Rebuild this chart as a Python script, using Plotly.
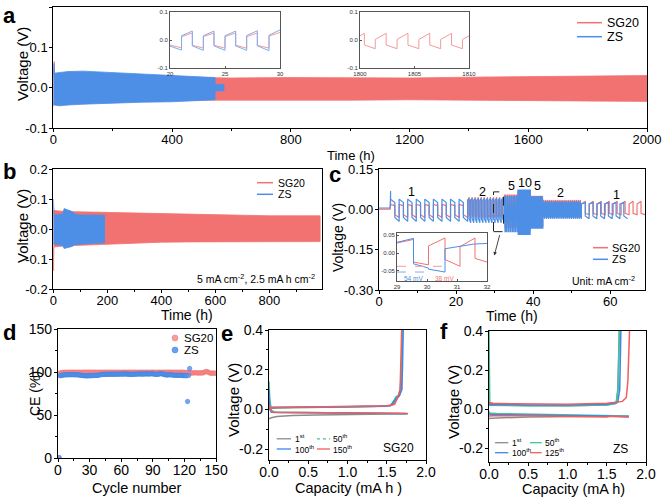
import plotly.graph_objects as go

W, H = 663, 499
def X(px): return px / W
def Y(py): return 1 - py / H

RED = "#F27272"
BLUE = "#4D8FE6"
FONT = "Arial, Liberation Sans, sans-serif"

# ---------------- panel a : envelopes of dense cycling (h, V) ----------------
a_sg_t   = [0, 2, 3, 4, 8, 20, 100, 200, 300, 400, 500, 600, 800, 1000, 1200, 1400, 1600, 1800, 2000]
a_sg_top = [0.03, 0.03, 0.065, 0.035, 0.035, 0.033, 0.030, 0.028, 0.026, 0.026, 0.025, 0.024, 0.025, 0.025, 0.024, 0.026, 0.027, 0.028, 0.030]
a_sg_bot = [-0.04, -0.04, -0.04, -0.04, -0.04, -0.038, -0.035, -0.033, -0.032, -0.031, -0.030, -0.030, -0.031, -0.031, -0.030, -0.031, -0.032, -0.033, -0.034]
a_zs_t   = [0, 1, 2, 4, 20, 50, 100, 200, 300, 400, 450, 545]
a_zs_top = [0.03, 0.06, 0.06, 0.036, 0.038, 0.040, 0.041, 0.037, 0.033, 0.030, 0.028, 0.025]
a_zs_bot = [-0.035, -0.045, -0.045, -0.043, -0.045, -0.043, -0.041, -0.038, -0.036, -0.035, -0.033, -0.030]
a_zs_tail_t = [545, 575]
a_zs_tail_top = [0.008, 0.008]
a_zs_tail_bot = [-0.008, -0.008]

# insets of panel a
ia1_t  = [20.0, 21.05, 21.05, 22.03, 22.03, 23.03, 23.03, 24.0, 24.0, 25.0, 25.0, 25.97, 25.97, 26.97, 26.97, 27.94, 27.94, 29.0, 29.0, 30.0]
ia1_sg = [-0.018, -0.028, 0.012, 0.025, -0.019, -0.029, 0.012, 0.025, -0.019, -0.029, 0.012, 0.025, -0.019, -0.029, 0.012, 0.025, -0.019, -0.029, 0.014, 0.027]
ia1_zs = [-0.022, -0.036, 0.015, 0.032, -0.021, -0.037, 0.015, 0.032, -0.021, -0.037, 0.015, 0.032, -0.021, -0.037, 0.016, 0.033, -0.021, -0.038, 0.017, 0.036]
ia2_t  = [1800.0, 1800.4, 1800.4, 1801.4, 1801.4, 1802.4, 1802.4, 1803.4, 1803.4, 1804.4, 1804.4, 1805.4, 1805.4, 1806.4, 1806.4, 1807.4, 1807.4, 1808.4, 1808.4, 1809.4, 1809.4, 1810.0]
ia2_sg = [0.015, 0.024, -0.018, -0.031, 0.002, 0.024, -0.018, -0.031, 0.002, 0.024, -0.018, -0.031, 0.002, 0.024, -0.018, -0.031, 0.002, 0.024, -0.018, -0.031, 0.002, 0.015]

# ---------------- panel b : envelopes ----------------
b_sg_t   = [0, 1, 2, 5, 20, 50, 100, 200, 300, 400, 500, 600, 700, 800, 900, 988]
b_sg_top = [0.062, 0.062, 0.062, 0.062, 0.060, 0.058, 0.057, 0.054, 0.052, 0.050, 0.048, 0.046, 0.045, 0.044, 0.044, 0.044]
b_sg_bot = [-0.06, -0.14, -0.06, -0.06, -0.058, -0.056, -0.053, -0.050, -0.047, -0.044, -0.043, -0.042, -0.042, -0.041, -0.042, -0.042]
b_zs_t   = [0, 1, 3, 10, 35, 40, 50, 60, 70, 80, 85, 100, 150, 190]
b_zs_top = [0.10, 0.05, 0.048, 0.047, 0.050, 0.068, 0.065, 0.060, 0.058, 0.050, 0.048, 0.047, 0.047, 0.046]
b_zs_bot = [-0.05, -0.05, -0.05, -0.05, -0.055, -0.065, -0.063, -0.060, -0.058, -0.052, -0.050, -0.050, -0.048, -0.046]

# ---------------- panel c : rate test segments ----------------
c_pre_t  = [0, 2.9, 3.0]
c_pre_sg = [0.001, 0.001, 0.03]
c_pre_zs = [0.005, 0.005, 0.068]
c_seg_t0     = [3.0, 23.0, 32.5, 36.0, 39.3, 42.5, 52.5]
c_seg_t1_sg  = [23.0, 32.5, 36.0, 39.3, 42.5, 52.5, 69.0]
c_seg_t1_zs  = [23.0, 32.5, 36.0, 39.3, 42.5, 52.5, 64.5]
c_seg_period = [2.22, 0.8, 0.2, 0.1, 0.2, 0.5, 2.1]
c_sg_hs = [0.018, 0.030, 0.050, 0.066, 0.045, 0.025, 0.020]
c_sg_he = [0.014, 0.045, 0.055, 0.070, 0.050, 0.035, 0.030]
c_sg_ls = [-0.020, -0.020, -0.060, -0.070, -0.055, -0.020, -0.015]
c_sg_le = [-0.030, -0.030, -0.070, -0.080, -0.065, -0.030, -0.020]
c_zs_hs = [0.038, 0.035, 0.045, 0.065, 0.040, 0.020, 0.020]
c_zs_he = [0.025, 0.040, 0.050, 0.074, 0.048, 0.030, 0.025]
c_zs_ls = [-0.030, -0.035, -0.070, -0.085, -0.060, -0.025, -0.025]
c_zs_le = [-0.045, -0.050, -0.085, -0.095, -0.072, -0.035, -0.035]
c_labels   = ["1", "2", "5", "10", "5", "2", "1"]
c_label_x  = [8.5, 26.9, 34.4, 37.8, 41.0, 47.0, 61.6]
c_label_y  = [0.064, 0.064, 0.088, 0.098, 0.088, 0.062, 0.052]

# inset of panel c
ic_zs_t = [29.0, 29.55, 29.55, 30.05, 30.05, 30.6, 30.6, 31.1, 31.1, 31.55, 32.0]
ic_zs_v = [0.030, 0.041, -0.030, -0.042, -0.045, -0.053, 0.012, 0.018, 0.020, 0.025, 0.027]
ic_sg_t = [29.0, 29.55, 29.55, 30.05, 30.05, 30.6, 30.6, 31.1, 31.1, 31.6, 31.6, 32.0]
ic_sg_v = [0.028, 0.038, -0.025, -0.033, 0.020, 0.042, -0.018, -0.037, 0.018, 0.042, -0.015, -0.025]

# ---------------- panel d : Coulombic efficiency ----------------
sg20_ce = [
    0.3, 98.8, 99.2, 99.4, 99.5, 99.6, 99.6, 99.7, 99.6, 99.7,
    99.7, 99.6, 99.7, 99.8, 99.7, 99.7, 99.6, 99.7, 99.8, 99.7,
    99.7, 99.6, 99.7, 99.7, 99.8, 99.7, 99.6, 99.7, 99.7, 99.8,
    99.7, 99.7, 99.6, 99.7, 99.8, 99.7, 99.7, 99.6, 99.7, 99.7,
    99.8, 99.7, 99.6, 99.7, 99.7, 99.8, 99.7, 99.7, 99.6, 99.7,
    99.7, 99.8, 99.7, 99.6, 99.7, 99.7, 99.8, 99.7, 99.7, 99.6,
    99.7, 99.7, 99.8, 99.7, 99.6, 99.7, 99.7, 99.8, 99.7, 99.7,
    99.6, 99.7, 99.8, 99.7, 99.7, 99.6, 99.7, 99.7, 99.8, 99.7,
    99.7, 99.6, 99.7, 99.7, 99.8, 99.7, 99.6, 99.7, 99.7, 99.8,
    99.7, 99.7, 99.6, 99.7, 99.7, 99.8, 99.7, 99.6, 99.7, 99.7,
    99.8, 99.7, 99.7, 99.6, 99.7, 99.7, 99.8, 99.7, 99.6, 99.7,
    99.7, 99.8, 99.7, 99.7, 99.6, 99.7, 99.7, 99.8, 99.7, 99.6,
    99.5, 99.4, 99.3, 99.2, 99.0, 98.9, 98.8, 98.9, 99.0, 99.1,
    99.0, 98.9, 98.8, 98.9, 99.0, 98.9, 98.8, 99.2, 99.6, 100.4,
    100.6, 100.2, 99.5, 99.0, 98.6, 98.5, 98.7, 98.8, 98.6, 98.5,
]
zs_ce = [
    0.5, 95.6, 96.0, 96.3, 96.5, 96.6, 96.8, 96.7, 96.9, 96.8,
    97.0, 96.9, 96.8, 97.0, 96.9, 96.8, 96.7, 96.8, 96.6, 96.5,
    96.3, 96.1, 96.0, 95.8, 95.7, 95.6, 95.5, 95.6, 95.5, 95.7,
    95.8, 95.7, 95.9, 96.0, 96.1, 95.9, 96.0, 96.2, 96.4, 96.7,
    97.0, 97.2, 97.3, 97.2, 97.4, 97.3, 97.2, 97.4, 97.3, 97.5,
    97.4, 97.3, 97.5, 97.4, 97.6, 97.5, 97.4, 97.6, 97.5, 97.7,
    97.6, 97.5, 97.7, 97.8, 97.6, 97.5, 97.4, 97.3, 97.4, 97.2,
    97.3, 97.4, 97.5, 97.6, 97.5, 97.7, 97.8, 97.6, 97.7, 97.5,
    97.6, 97.7, 97.8, 97.9, 97.7, 97.6, 97.8, 97.9, 98.0, 97.8,
    97.7, 97.5, 97.3, 97.2, 97.4, 97.6, 98.0, 98.2, 97.8, 97.4,
    97.0, 96.8, 96.6, 96.5, 96.7, 96.9, 96.8, 96.6, 96.4, 96.3,
    96.2, 96.3, 96.1, 96.0, 96.2, 96.3, 96.1, 96.0, 95.9, 96.0,
    95.8, 95.6, 65.7, 96.0, 104.0,
]
sg20_cycles = list(range(1, len(sg20_ce) + 1))
zs_cycles = list(range(1, len(zs_ce) + 1))

# ---------------- panel e : SG20 voltage profiles (mA h, V) ----------------
e_names = ["1<sup>st</sup>", "50<sup>th</sup>", "100<sup>th</sup>", "150<sup>th</sup>"]
e_colors = ["#8C8C8C", "#3CC7A0", "#3D86EA", "#F25C5C"]
e_plate_cap = [[0, 0.03, 0.1, 0.3, 0.6, 1.0, 1.4, 1.77],
               [0, 0.01, 0.03, 0.08, 0.5, 1.0, 1.5, 1.75],
               [0, 0.01, 0.03, 0.1, 1.0, 1.75],
               [0, 0.02, 0.05, 0.5, 1.0, 1.5, 1.77]]
e_plate_v = [[-0.048, -0.042, -0.036, -0.031, -0.028, -0.026, -0.024, -0.022],
             [0.14, 0.05, -0.005, -0.015, -0.016, -0.018, -0.020, -0.022],
             [0.10, 0.0, -0.014, -0.016, -0.018, -0.021],
             [0.02, 0.0, -0.015, -0.016, -0.018, -0.020, -0.021]]
e_strip_cap = [[0, 0.1, 0.5, 1.0, 1.5, 1.57, 1.62, 1.66, 1.69, 1.70],
               [0, 0.05, 0.5, 1.0, 1.4, 1.55, 1.6, 1.62, 1.65, 1.67, 1.69, 1.70],
               [0, 0.05, 0.5, 1.0, 1.4, 1.55, 1.6, 1.63, 1.66, 1.69, 1.70, 1.71],
               [0, 0.05, 0.5, 1.0, 1.5, 1.6, 1.64, 1.67, 1.69]]
e_strip_v = [[0.005, 0.007, 0.009, 0.011, 0.016, 0.022, 0.05, 0.07, 0.1, 0.4],
             [0.010, 0.010, 0.011, 0.013, 0.016, 0.020, 0.050, 0.065, 0.070, 0.10, 0.20, 0.40],
             [0.010, 0.010, 0.011, 0.013, 0.016, 0.020, 0.045, 0.060, 0.068, 0.10, 0.20, 0.40],
             [0.008, 0.010, 0.012, 0.014, 0.018, 0.025, 0.060, 0.10, 0.40]]

# ---------------- panel f : ZS voltage profiles ----------------
f_names = ["1<sup>st</sup>", "50<sup>th</sup>", "100<sup>th</sup>", "125<sup>th</sup>"]
f_colors = ["#8C8C8C", "#3CC7A0", "#3D86EA", "#F25C5C"]
f_plate_cap = [[0, 0.1, 0.5, 1.0, 1.5, 1.78],
               [0, 0.01, 0.1, 0.5, 1.0, 1.5, 1.78],
               [0, 0.05, 0.5, 1.0, 1.5, 1.78],
               [0, 0.05, 0.5, 1.0, 1.4, 1.5, 1.55, 1.78]]
f_plate_v = [[-0.048, -0.045, -0.040, -0.037, -0.036, -0.035],
             [-0.010, -0.020, -0.022, -0.025, -0.028, -0.032, -0.035],
             [-0.025, -0.028, -0.030, -0.032, -0.035, -0.040],
             [-0.035, -0.033, -0.033, -0.035, -0.036, -0.040, -0.036, -0.038]]
f_strip_cap = [[0, 0.1, 0.5, 1.0, 1.5, 1.62, 1.64, 1.66],
               [0, 0.003, 0.01, 0.1, 0.5, 1.0, 1.5, 1.62, 1.645, 1.66],
               [0, 0.05, 0.5, 1.0, 1.5, 1.64, 1.665, 1.68],
               [0, 0.05, 0.3, 0.8, 1.0, 1.5, 1.7, 1.75, 1.77, 1.79]]
f_strip_v = [[0.02, 0.02, 0.018, 0.018, 0.022, 0.03, 0.1, 0.4],
             [0.40, 0.10, 0.030, 0.022, 0.018, 0.018, 0.022, 0.030, 0.10, 0.40],
             [0.025, 0.025, 0.022, 0.021, 0.025, 0.035, 0.10, 0.40],
             [0.035, 0.030, 0.028, 0.025, 0.025, 0.030, 0.040, 0.060, 0.15, 0.40]]

# ======================================================================
fig = go.Figure()

def band(t, top, bot, color, xa, ya):
    fig.add_trace(go.Scatter(x=list(t) + list(t)[::-1], y=list(top) + list(bot)[::-1],
                             fill="toself", fillcolor=color, mode="lines",
                             line=dict(color=color, width=0.8), xaxis=xa, yaxis=ya,
                             hoverinfo="skip", showlegend=False))

def line(x, y, color, xa, ya, width=1.2, dash=None):
    fig.add_trace(go.Scatter(x=x, y=y, mode="lines", line=dict(color=color, width=width, dash=dash),
                             xaxis=xa, yaxis=ya, hoverinfo="skip", showlegend=False))

def square(t0s, t1s, periods, hs, he, ls, le):
    xs, ys = [], []
    for a, b, p, h1, h2, l1, l2 in zip(t0s, t1s, periods, hs, he, ls, le):
        n = max(1, round((b - a) / p))
        step = (b - a) / n
        for k in range(n):
            s = a + k * step
            m = s + step / 2
            xs += [s, m, m, s + step]
            ys += [h1, h2, l1, l2]
    return xs, ys

# panel a
band(a_sg_t, a_sg_top, a_sg_bot, RED, "x", "y")
band(a_zs_t, a_zs_top, a_zs_bot, BLUE, "x", "y")
band(a_zs_tail_t, a_zs_tail_top, a_zs_tail_bot, BLUE, "x", "y")
line(ia1_t, ia1_sg, "#F49A9A", "x7", "y7", 1.0)
line(ia1_t, ia1_zs, "#7FAEEF", "x7", "y7", 1.0)
line(ia2_t, ia2_sg, "#F49A9A", "x8", "y8", 1.0)

# panel b
band(b_sg_t, b_sg_top, b_sg_bot, RED, "x2", "y2")
band(b_zs_t, b_zs_top, b_zs_bot, BLUE, "x2", "y2")

# panel c
sx, sy = square(c_seg_t0, c_seg_t1_sg, c_seg_period, c_sg_hs, c_sg_he, c_sg_ls, c_sg_le)
zx, zy = square(c_seg_t0, c_seg_t1_zs, c_seg_period, c_zs_hs, c_zs_he, c_zs_ls, c_zs_le)
line(c_pre_t + sx, c_pre_sg + sy, RED, "x3", "y3", 1.2)
line(c_pre_t + zx, c_pre_zs + zy, BLUE, "x3", "y3", 1.2)
line(ic_sg_t, ic_sg_v, RED, "x9", "y9", 1.0)
line(ic_zs_t, ic_zs_v, BLUE, "x9", "y9", 1.0)
line([29.0, 30.6], [-0.037, -0.037], "#F49A9A", "x9", "y9", 1.0, "dash")
line([29.0, 30.0], [-0.053, -0.053], "#7FAEEF", "x9", "y9", 1.0, "dash")

# panel d
fig.add_trace(go.Scatter(x=sg20_cycles, y=sg20_ce, mode="markers", xaxis="x4", yaxis="y4",
                         marker=dict(size=4.5, color="rgba(245,140,140,0.75)", line=dict(color="#F07070", width=0.5)),
                         hoverinfo="skip", showlegend=False))
fig.add_trace(go.Scatter(x=zs_cycles, y=zs_ce, mode="markers", xaxis="x4", yaxis="y4",
                         marker=dict(size=4.5, color="rgba(90,150,235,0.85)", line=dict(color="#3D7FE0", width=0.5)),
                         hoverinfo="skip", showlegend=False))

# panels e, f
for i in range(4):
    line(e_plate_cap[i], e_plate_v[i], e_colors[i], "x5", "y5", 1.5)
    line(e_strip_cap[i], e_strip_v[i], e_colors[i], "x5", "y5", 1.5)
for i in range(4):
    line(f_plate_cap[i], f_plate_v[i], f_colors[i], "x6", "y6", 1.5)
    line(f_strip_cap[i], f_strip_v[i], f_colors[i], "x6", "y6", 1.5)

# ---------------- axes ----------------
def main_axis(px0, px1, rng, tickvals, ticktext, minor, anchor, size=13, vertical=False):
    d = dict(domain=[Y(px1), Y(px0)] if vertical else [X(px0), X(px1)], range=rng,
             tickmode="array", tickvals=tickvals, ticktext=ticktext,
             showline=True, linecolor="black", linewidth=1.1, mirror=True,
             ticks="outside", ticklen=3, tickwidth=1, tickcolor="black",
             showgrid=False, zeroline=False, anchor=anchor,
             tickfont=dict(size=size, color="black", family=FONT))
    d["ticklabelstandoff"] = -1 if vertical else -4
    if minor:
        d["minor"] = dict(dtick=minor, tick0=0, ticks="outside", ticklen=2, tickwidth=1, tickcolor="black", showgrid=False)
    return d

def inset_axis(px0, px1, rng, tickvals, ticktext, anchor, vertical=False):
    return dict(domain=[Y(px1), Y(px0)] if vertical else [X(px0), X(px1)], range=rng,
                tickmode="array", tickvals=tickvals, ticktext=ticktext,
                showline=True, linecolor="#555555", linewidth=0.8, mirror=True,
                ticks="inside", ticklen=2, tickwidth=0.6, tickcolor="#555555",
                showgrid=False, zeroline=False, anchor=anchor,
                tickfont=dict(size=6, color="#333333", family=FONT))

lay = dict(
    xaxis=main_axis(53.3, 647, [0, 2000], [0, 400, 800, 1200, 1600, 2000], ["0", "400", "800", "1200", "1600", "2000"], 200, "y"),
    yaxis=main_axis(7, 128, [-0.1, 0.2], [-0.1, 0.0, 0.1, 0.2], ["-0.1", "0.0", "0.1", "0.2"], None, "x", vertical=True),
    xaxis2=main_axis(53.3, 322, [0, 995], [0, 200, 400, 600, 800], ["0", "200", "400", "600", "800"], 100, "y2"),
    yaxis2=main_axis(169, 289, [-0.2, 0.2], [-0.2, -0.1, 0.0, 0.1, 0.2], ["-0.2", "-0.1", "0.0", "0.1", "0.2"], None, "x2", vertical=True),
    xaxis3=main_axis(379, 645, [0, 69], [0, 20, 40, 60], ["0", "20", "40", "60"], 10, "y3"),
    yaxis3=main_axis(169, 290, [-0.30, 0.15], [-0.30, -0.15, 0.0, 0.15], ["-0.30", "-0.15", "0.00", "0.15"], None, "x3", vertical=True),
    xaxis4=main_axis(58, 216, [0, 150], [0, 30, 60, 90, 120, 150], ["0", "30", "60", "90", "120", "150"], 15, "y4", size=14),
    yaxis4=main_axis(329, 458, [0, 150], [0, 50, 100, 150], ["0", "50", "100", "150"], 25, "x4", size=14, vertical=True),
    xaxis5=main_axis(269, 426, [0, 2.0], [0, 0.5, 1.0, 1.5, 2.0], ["0.0", "0.5", "1.0", "1.5", "2.0"], 0.25, "y5", size=14),
    yaxis5=main_axis(330, 460, [-0.255, 0.4], [-0.2, 0.0, 0.2, 0.4], ["-0.2", "0.0", "0.2", "0.4"], 0.1, "x5", size=14, vertical=True),
    xaxis6=main_axis(489, 646, [0, 2.0], [0, 0.5, 1.0, 1.5, 2.0], ["0.0", "0.5", "1.0", "1.5", "2.0"], 0.25, "y6", size=14),
    yaxis6=main_axis(331, 462, [-0.27, 0.4], [-0.2, 0.0, 0.2, 0.4], ["-0.2", "0.0", "0.2", "0.4"], 0.1, "x6", size=14, vertical=True),
    xaxis7=inset_axis(170, 280, [20, 30], [20, 25, 30], ["20", "25", "30"], "y7"),
    yaxis7=inset_axis(12, 68, [-0.1, 0.1], [-0.1, 0.0, 0.1], ["-0.1", "0.0", "0.1"], "x7", vertical=True),
    xaxis8=inset_axis(360, 469, [1800, 1810], [1800, 1805, 1810], ["1800", "1805", "1810"], "y8"),
    yaxis8=inset_axis(12, 68, [-0.1, 0.1], [-0.1, 0.0, 0.1], ["-0.1", "0.0", "0.1"], "x8", vertical=True),
    xaxis9=inset_axis(397, 487, [29, 32], [29, 30, 31, 32], ["29", "30", "31", "32"], "y9"),
    yaxis9=inset_axis(233, 281, [-0.078, 0.056], [-0.05, 0.0, 0.05], ["-0.05", "0.00", "0.05"], "x9", vertical=True),
)

ann = []
shapes = []
def text(px, py, s, size=13, xanchor="center", yanchor="middle", angle=0, bold=False, color="black"):
    ann.append(dict(x=X(px), y=Y(py), xref="paper", yref="paper", text=("<b>%s</b>" % s) if bold else s,
                    showarrow=False, xanchor=xanchor, yanchor=yanchor, textangle=angle,
                    font=dict(size=size, color=color, family=FONT)))

def legline(px0, px1, py, color, dash=None, width=1.5):
    shapes.append(dict(type="line", xref="paper", yref="paper", x0=X(px0), x1=X(px1), y0=Y(py), y1=Y(py),
                       line=dict(color=color, width=width, dash=dash)))

# panel letters
for s, px, py in [("a", 9, 15), ("b", 9, 171), ("c", 335, 174), ("d", 9, 332), ("e", 227, 333), ("f", 444, 331)]:
    text(px, py, s, size=22, bold=True)

# axis titles
text(22, 64, "Voltage (V)", size=15, angle=-90)
text(351, 155, "Time (h)", size=13)
text(22, 226, "Voltage (V)", size=15, angle=-90)
text(187, 315, "Time (h)", size=14)
text(338, 238, "Voltage (V)", size=14, angle=-90)
text(512, 316, "Time (h)", size=14)
text(35, 394, "CE (%)", size=14, angle=-90)
text(137, 488, "Cycle number", size=14.5)
text(233, 400, "Voltage (V)", size=15, angle=-90)
text(348, 488, "Capacity (mA h )", size=14.5)
text(453, 402, "Voltage (V)", size=15, angle=-90)
text(573, 489, "Capacity (mA h)", size=14.5)

# legends a, b, c
for (x0, x1, tx, y1, y2, fs) in [(577, 602, 605, 22.7, 36.7, 12.5), (257, 273, 276, 182.7, 194.3, 10.5), (593, 608, 610, 247.7, 259.3, 11)]:
    legline(x0, x1, y1, RED)
    legline(x0, x1, y2, BLUE)
    text(tx, y1, "SG20", size=fs, xanchor="left")
    text(tx, y2, "ZS", size=fs, xanchor="left")

# legend d
shapes.append(dict(type="circle", xref="paper", yref="paper", x0=X(172), x1=X(178), y0=Y(341), y1=Y(335),
                   fillcolor="rgba(245,140,140,0.85)", line=dict(color="#F07070", width=0.5)))
shapes.append(dict(type="circle", xref="paper", yref="paper", x0=X(172), x1=X(178), y0=Y(353), y1=Y(347),
                   fillcolor="rgba(90,150,235,0.9)", line=dict(color="#3D7FE0", width=0.5)))
text(182, 338, "SG20", size=11.5, xanchor="left")
text(182, 350, "ZS", size=11.5, xanchor="left")

# legend e
e_pos = [(276.7, 291, 292.5, 438.8), (317, 330, 331, 438.8), (276.7, 291, 292.5, 449), (317, 330, 331, 449)]
for i, (x0, x1, tx, py) in enumerate(e_pos):
    legline(x0, x1, py, e_colors[i], "dot" if i == 1 else None, 1.3)
    text(tx, py, e_names[i], size=8.5, xanchor="left")
text(398, 448, "SG20", size=12)
# legend f
f_pos = [(495, 508.3, 510, 442.7), (530, 541.7, 543, 442.7), (495, 508.3, 510, 452.7), (530, 541.7, 543, 452.7)]
for i, (x0, x1, tx, py) in enumerate(f_pos):
    legline(x0, x1, py, f_colors[i], None, 1.3)
    text(tx, py, f_names[i], size=8.5, xanchor="left")
text(620, 449, "ZS", size=12)

# panel b / c notes
text(317, 278, "5 mA cm<sup>-2</sup>, 2.5 mA h cm<sup>-2</sup>", size=10.5, xanchor="right")
text(637, 280, "Unit: mA cm<sup>-2</sup>", size=10.5, xanchor="right")

# panel c current labels
for s, lx, ly in zip(c_labels, c_label_x, c_label_y):
    ann.append(dict(x=lx, y=ly, xref="x3", yref="y3", text=s, showarrow=False,
                    font=dict(size=12.5, color="black", family=FONT)))
# dashed box and arrow in c
shapes.append(dict(type="rect", xref="x3", yref="y3", x0=29.7, x1=32.3, y0=-0.083, y1=0.065,
                   line=dict(color="#222222", width=1, dash="dash")))
ann.append(dict(x=29.9, y=-0.172, xref="x3", yref="y3", ax=31.4, ay=-0.09, axref="x3", ayref="y3",
                text="", showarrow=True, arrowhead=2, arrowsize=0.8, arrowwidth=0.9, arrowcolor="#333333"))
# inset c mV labels
text(413, 278, "54 mV", size=6.5, color="#4D8FE6")
text(445, 278, "38 mV", size=6.5, color="#F27272")

fig.update_layout(width=W, height=H, margin=dict(l=0, r=0, t=0, b=0, pad=0, autoexpand=False), autosize=False,
                  paper_bgcolor="white", plot_bgcolor="white", showlegend=False,
                  annotations=ann, shapes=shapes, font=dict(family=FONT, color="black"), **lay)

fig.write_html("out.html", config={"displayModeBar": False},
               post_script="document.body.style.margin='0';document.body.style.overflow='hidden';")
